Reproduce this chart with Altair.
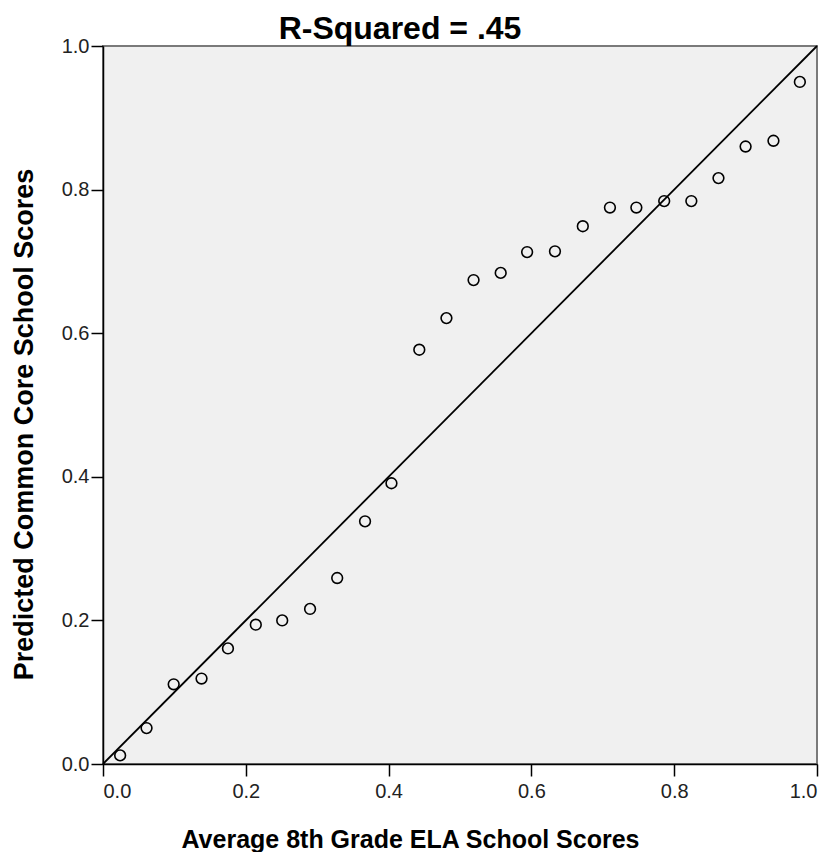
import altair as alt
import pandas as pd

# Observed points (Average 8th Grade ELA School Scores vs Predicted Common Core School Scores)
x_vals = [0.024, 0.061, 0.099, 0.138, 0.175, 0.214, 0.251, 0.290, 0.328, 0.367,
          0.404, 0.443, 0.481, 0.519, 0.557, 0.594, 0.633, 0.672, 0.710, 0.747,
          0.786, 0.824, 0.862, 0.900, 0.939, 0.976]
y_vals = [0.012, 0.050, 0.111, 0.119, 0.161, 0.194, 0.200, 0.216, 0.259, 0.338,
          0.391, 0.577, 0.621, 0.674, 0.684, 0.713, 0.714, 0.749, 0.775, 0.775,
          0.784, 0.784, 0.816, 0.860, 0.868, 0.950]

# Reference (diagonal) line
ref_x = [0.0, 1.0]
ref_y = [0.0, 1.0]

ticks = [0.0, 0.2, 0.4, 0.6, 0.8, 1.0]

pts = pd.DataFrame({"x": x_vals, "y": y_vals})
ref = pd.DataFrame({"x": ref_x, "y": ref_y})

FONT = "Liberation Sans"

xscale = alt.Scale(domain=[0, 1], nice=False, zero=False)
yscale = alt.Scale(domain=[0, 1], nice=False, zero=False)

x_axis = alt.Axis(
    title="Average 8th Grade ELA School Scores",
    values=ticks, format=".1f", grid=False,
    domainColor="black", domainWidth=1.5,
    tickColor="black", tickWidth=1.5, tickSize=12,
    labelFont=FONT, labelFontSize=20, labelColor="#222", labelPadding=5,
    titleFont=FONT, titleFontSize=25, titleFontWeight="bold", titleColor="black",
    titleX=307, titleY=75, titleAlign="center", titleBaseline="middle",
)
y_axis = alt.Axis(
    title="Predicted Common Core School Scores",
    values=ticks, format=".1f", grid=False,
    domainColor="black", domainWidth=1.5,
    tickColor="black", tickWidth=1.5, tickSize=12,
    labelFont=FONT, labelFontSize=20, labelColor="#222", labelPadding=2,
    titleFont=FONT, titleFontSize=27, titleFontWeight="bold", titleColor="black",
    titleX=-79, titleY=378, titleAlign="center", titleBaseline="middle", titleAngle=270,
)

line = alt.Chart(ref).mark_line(color="black", strokeWidth=1.8).encode(
    x=alt.X("x:Q", scale=xscale, axis=x_axis),
    y=alt.Y("y:Q", scale=yscale, axis=y_axis),
)

points = alt.Chart(pts).mark_point(
    shape="circle", filled=False, color="black", strokeWidth=1.6, size=115, opacity=1
).encode(
    x=alt.X("x:Q", scale=xscale),
    y=alt.Y("y:Q", scale=yscale),
)

chart = alt.layer(line, points).properties(
    width=714,
    height=718,
    background="white",
    title=alt.TitleParams(
        text="R-Squared = .45", font=FONT, fontSize=32, fontWeight="bold",
        color="black", anchor="middle", frame="group", dx=-60, offset=-10,
    ),
    autosize=alt.AutoSizeParams(type="none"),
    padding={"left": 95, "top": 38, "right": 14, "bottom": 88},
).configure_view(
    fill="#f0f0f0", stroke="#7a7a7a", strokeWidth=2
)

chart.save("out.html", embed_options={"renderer": "svg", "actions": False})
